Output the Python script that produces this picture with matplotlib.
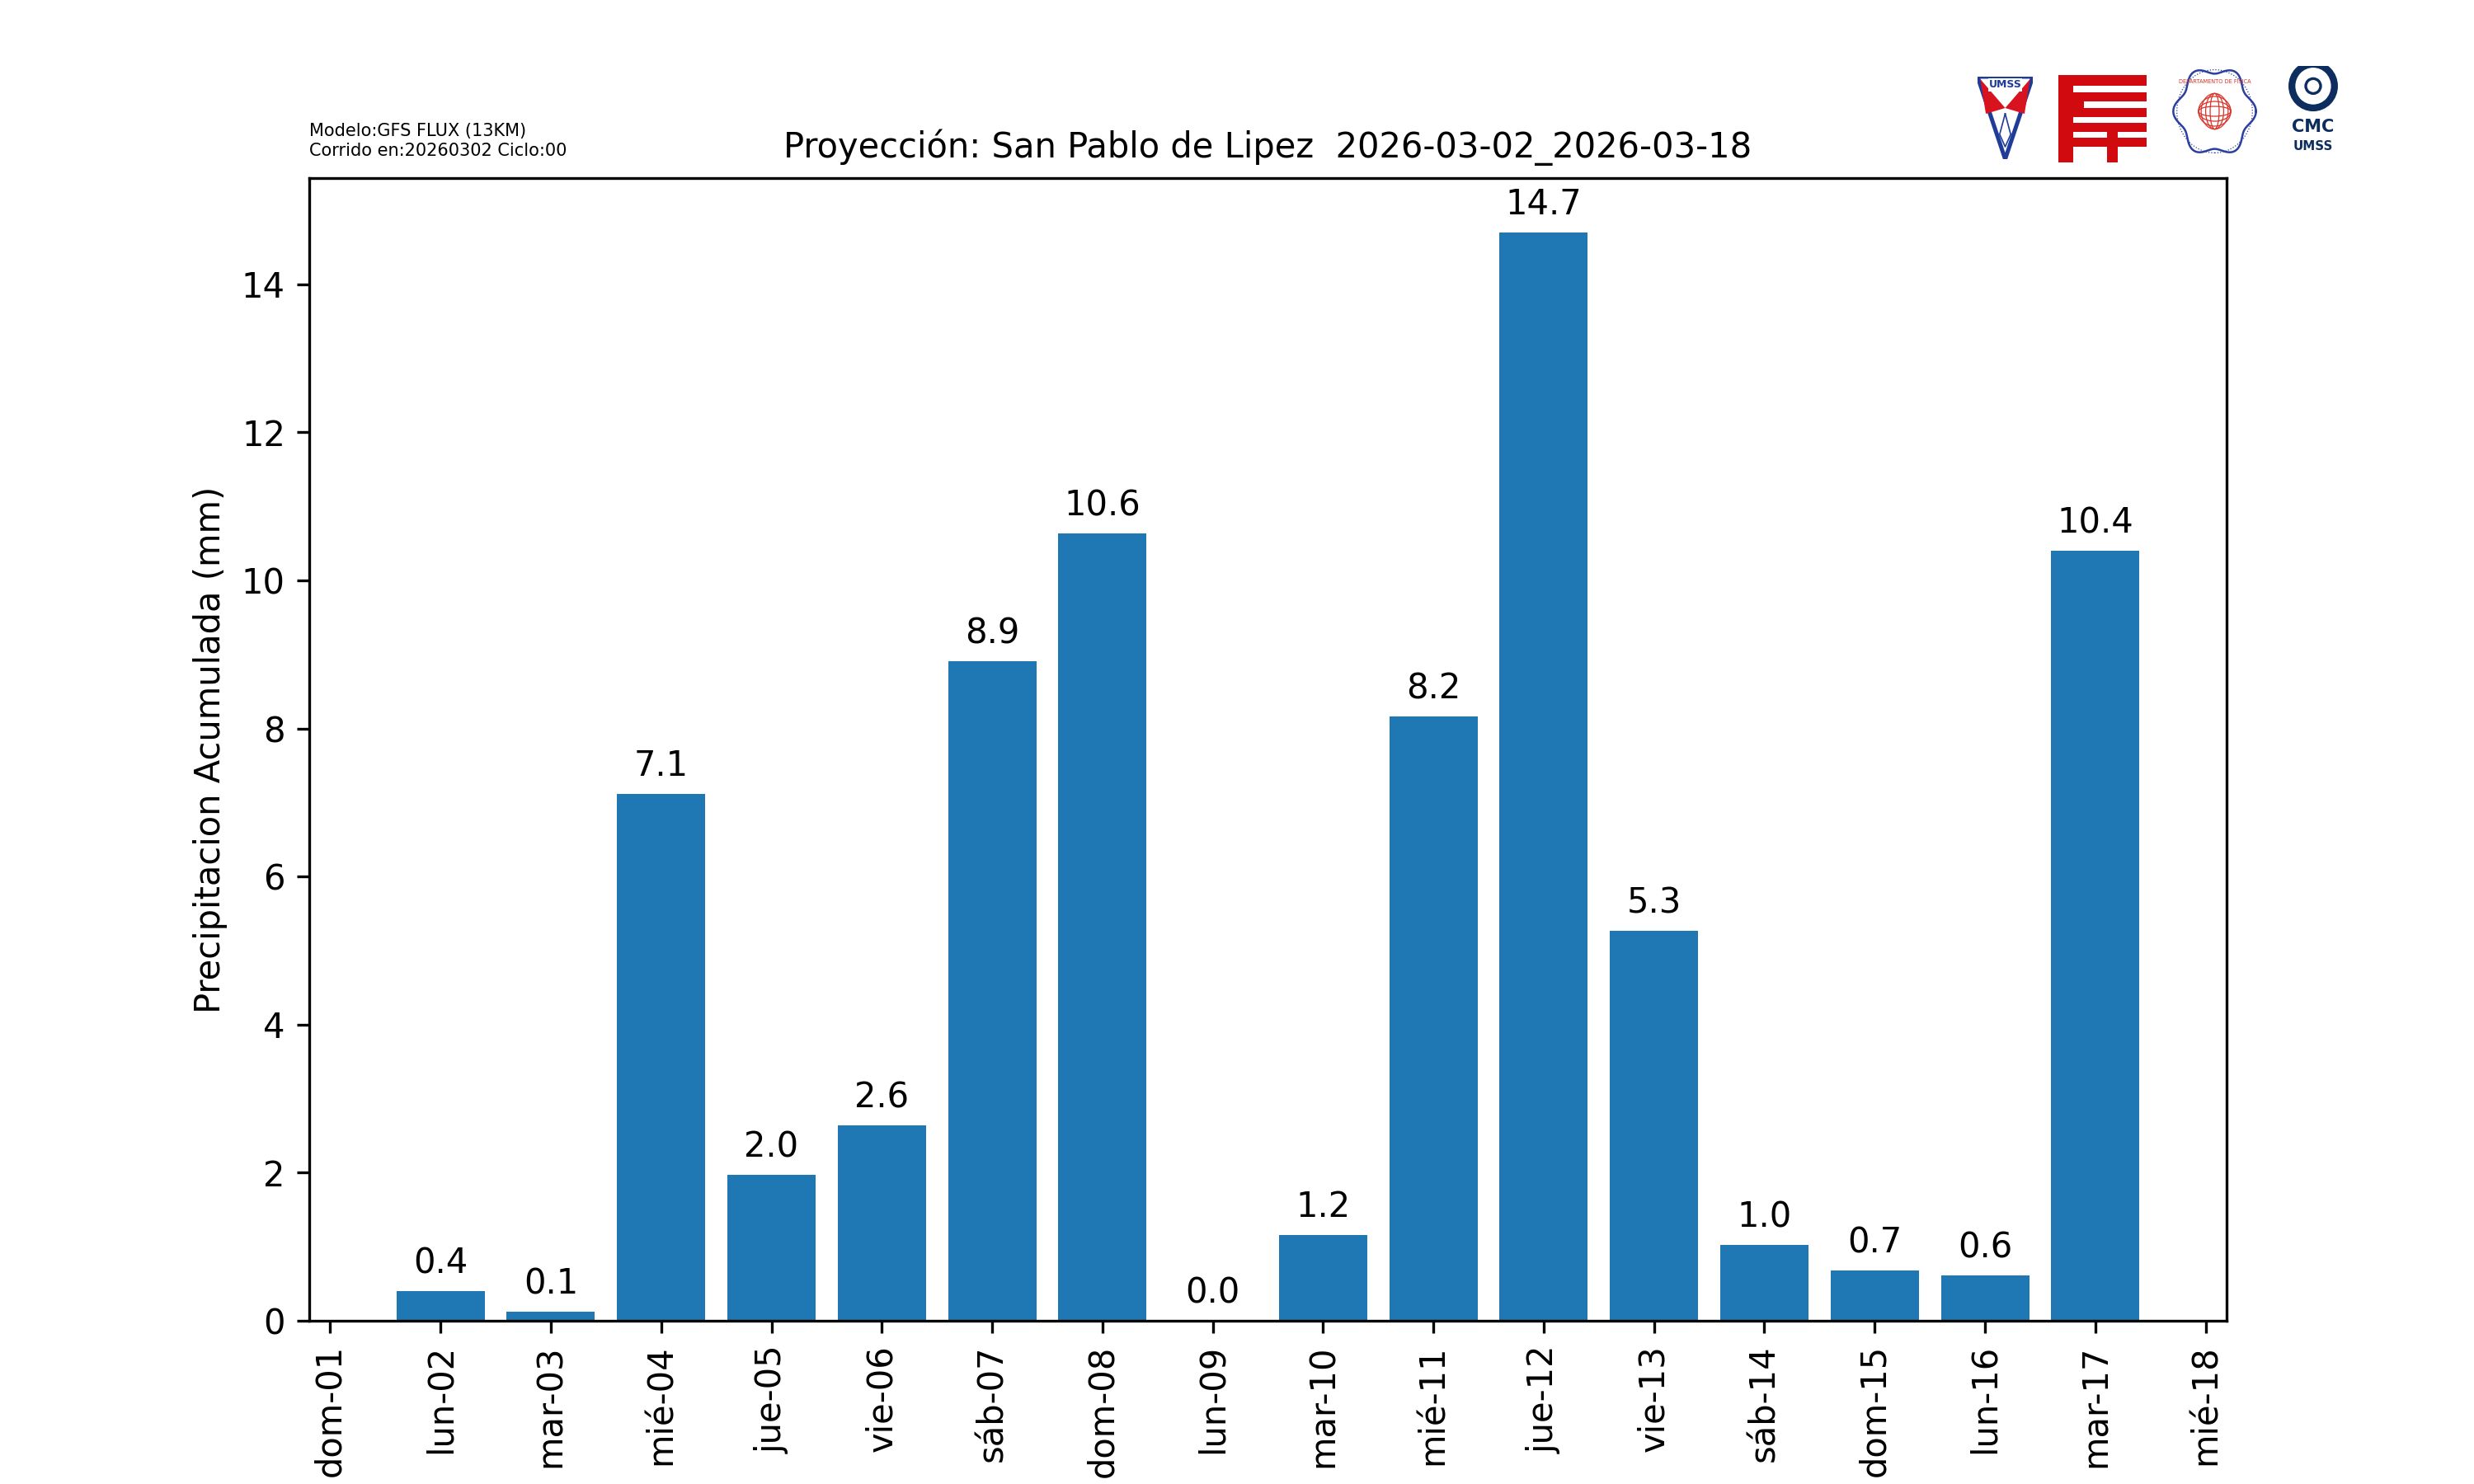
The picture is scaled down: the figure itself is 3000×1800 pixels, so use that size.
import numpy as np
import matplotlib
matplotlib.use("Agg")
import matplotlib.pyplot as plt
from matplotlib.patches import Polygon, Rectangle, Circle, Ellipse

dias = ['dom-01', 'lun-02', 'mar-03', 'mié-04', 'jue-05', 'vie-06', 'sáb-07', 'dom-08', 'lun-09',
        'mar-10', 'mié-11', 'jue-12', 'vie-13', 'sáb-14', 'dom-15', 'lun-16', 'mar-17', 'mié-18']
dia_barra = [2, 3, 4, 5, 6, 7, 8, 9, 10, 11, 12, 13, 14, 15, 16, 17]
precip = [0.40, 0.12, 7.12, 1.97, 2.64, 8.91, 10.63, 0.0, 1.16, 8.16, 14.70, 5.27, 1.02, 0.68, 0.61, 10.40]

titulo = 'Proyección: San Pablo de Lipez  2026-03-02_2026-03-18'
info = 'Modelo:GFS FLUX (13KM)\nCorrido en:20260302 Ciclo:00'

fig = plt.figure(figsize=(10, 6), dpi=300)
ax = fig.add_subplot(111)
bars = ax.bar(dia_barra, precip, width=0.8, color='#1f77b4')
ax.bar_label(bars, labels=['%.1f' % v for v in precip], padding=3)
ax.set_xticks(range(1, len(dias) + 1))
ax.set_xticklabels(dias, rotation=90)
ax.set_ylabel('Precipitacion Acumulada (mm)')
ax.set_title(titulo, fontsize=10)
fig.text(0.125, 0.893, info, fontsize=5, va='bottom', ha='left')

# logos (aproximados)
W, H = 3000, 1800
def logo_ax(x0, y0, x1, y1):
    a = fig.add_axes([x0 / W, 1 - y1 / H, (x1 - x0) / W, (y1 - y0) / H])
    a.set_xlim(0, 1)
    a.set_ylim(0, 1)
    a.axis('off')
    return a

a = logo_ax(2398, 93, 2465, 193)
a.add_patch(Polygon([[0, 1], [1, 1], [0.5, 0]], closed=True, fc='white', ec='#1f3c99', lw=1.2))
a.add_patch(Polygon([[0.05, 0.97], [0.5, 0.62], [0.95, 0.97], [0.85, 0.55], [0.5, 0.62], [0.15, 0.55]],
                    closed=True, fc='#d9121f', ec='none'))
a.add_patch(Rectangle((0.2, 0.82), 0.6, 0.16, fc='white', ec='none'))
a.text(0.5, 0.9, 'UMSS', ha='center', va='center', fontsize=3, color='#1f3c99', fontweight='bold')
a.plot([0.5, 0.4, 0.5, 0.6, 0.5], [0.55, 0.3, 0.15, 0.3, 0.55], color='#1f3c99', lw=0.4)

a = logo_ax(2496, 91, 2603, 197)
red = '#d10a10'
a.add_patch(Rectangle((0.0, 0.0), 0.17, 1.0, fc=red, ec='none'))
a.add_patch(Rectangle((0.0, 0.88), 1.0, 0.12, fc=red, ec='none'))
a.add_patch(Rectangle((0.17, 0.70), 0.83, 0.10, fc=red, ec='none'))
a.add_patch(Rectangle((0.17, 0.62), 0.12, 0.10, fc=red, ec='none'))
a.add_patch(Rectangle((0.17, 0.52), 0.83, 0.10, fc=red, ec='none'))
a.add_patch(Rectangle((0.17, 0.35), 0.83, 0.10, fc=red, ec='none'))
a.add_patch(Rectangle((0.17, 0.18), 0.83, 0.10, fc=red, ec='none'))
a.add_patch(Rectangle((0.55, 0.0), 0.12, 0.45, fc=red, ec='none'))

a = logo_ax(2631, 75, 2740, 195)
t = np.linspace(0, 2 * np.pi, 400)
r = 0.42 + 0.04 * np.cos(6 * t)
a.plot(0.5 + r * np.cos(t), 0.5 + r * np.sin(t), color='#2b3f9e', lw=0.6)
a.add_patch(Circle((0.5, 0.5), 0.42, fc='none', ec='#2b3f9e', lw=0.3, ls=':'))
for w in [0.1, 0.2, 0.3]:
    a.add_patch(Ellipse((0.5, 0.5), w, 0.36, fc='none', ec='#d9342b', lw=0.3))
for h in [0.1, 0.2, 0.3]:
    a.add_patch(Ellipse((0.5, 0.5), 0.36, h, fc='none', ec='#d9342b', lw=0.3))
a.text(0.5, 0.78, 'DEPARTAMENTO DE FÍSICA', ha='center', fontsize=1.6, color='#d9342b')

a = logo_ax(2775, 80, 2835, 186)
navy = '#0d2d5e'
a.add_patch(Ellipse((0.5, 0.77), 0.86, 0.5, fc='none', ec=navy, lw=2.0))
a.add_patch(Ellipse((0.5, 0.77), 0.3, 0.17, fc='none', ec=navy, lw=0.8))
a.text(0.5, 0.3, 'CMC', ha='center', va='center', fontsize=5, color=navy, fontweight='bold')
a.text(0.5, 0.08, 'UMSS', ha='center', va='center', fontsize=3.6, color=navy, fontweight='bold')

fig.savefig('out.png', dpi=300)
